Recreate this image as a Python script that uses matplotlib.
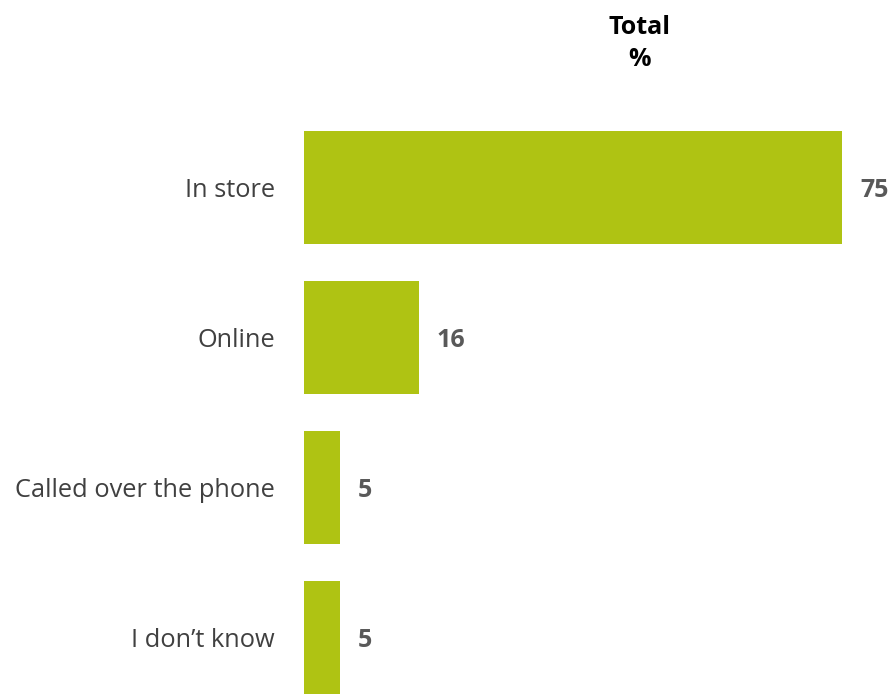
import numpy as np
import matplotlib.pyplot as plt

plt.rcParams['font.family'] = ['Open Sans', 'DejaVu Sans']

categories = ["In store", "Online", "Called over the phone", "I don\u2019t know"]
values = [75, 16, 5, 5]

bar_color = "#AFC313"

fig = plt.figure(figsize=(8.95, 7.0), dpi=100)
ax = fig.add_axes([304 / 895, 0.0, 574 / 895, 600 / 700])

y = np.arange(len(categories))
ax.barh(y, values, height=0.753, color=bar_color, left=0)
ax.set_xlim(0, 80)
ax.set_ylim(3 + 62.5 / 150, 3 + 62.5 / 150 - 4)

# value labels just right of each bar
for yi, v in zip(y, values):
    ax.annotate(str(v), (v, yi), xytext=(13, -2), textcoords="offset points",
                ha="left", va="center", fontsize=18, fontweight="bold",
                color="#595959")

ax.set_yticks(y)
ax.set_yticklabels(categories, fontsize=18.3, color="#404040")
ax.tick_params(axis="y", length=0, pad=21)
ax.set_xticks([])
for s in ax.spines.values():
    s.set_visible(False)

fig.text(640 / 895, 1 - 27 / 700, "Total", ha="center", va="center",
         fontsize=18, fontweight="bold", color="black")
fig.text(640 / 895, 1 - 59 / 700, "%", ha="center", va="center",
         fontsize=18, fontweight="bold", color="black")

fig.savefig("out.png", dpi=100)
